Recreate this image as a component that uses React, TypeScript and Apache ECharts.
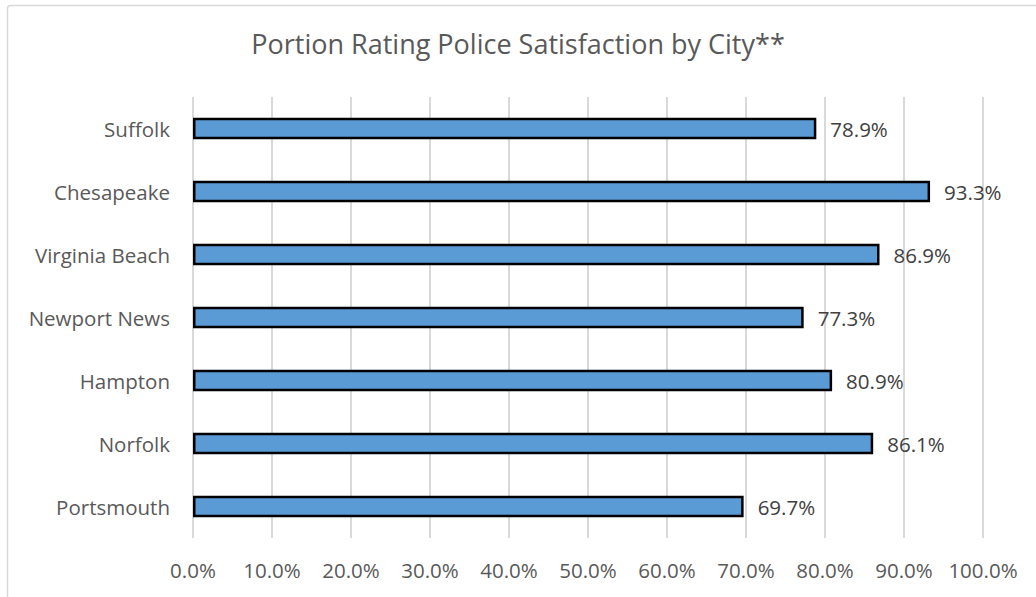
import React, { useEffect, useRef } from "react";
import * as echarts from "echarts";

const titleText = "Portion Rating Police Satisfaction by City**";
const cities = ["Suffolk", "Chesapeake", "Virginia Beach", "Newport News", "Hampton", "Norfolk", "Portsmouth"];
const satisfaction = [78.9, 93.3, 86.9, 77.3, 80.9, 86.1, 69.7];
const xTicks = [0, 10, 20, 30, 40, 50, 60, 70, 80, 90, 100];

const FONT = "'Open Sans', sans-serif";

export default function App() {
  const ref = useRef<HTMLDivElement>(null);
  useEffect(() => {
    if (!ref.current) return;
    const chart = echarts.init(ref.current, undefined, { renderer: "svg" });
    chart.setOption({
      animation: false,
      backgroundColor: "#ffffff",
      textStyle: { fontFamily: FONT },
      title: {
        text: titleText,
        left: "center",
        top: 30,
        padding: 0,
        textStyle: { fontFamily: FONT, fontSize: 27, fontWeight: "normal", color: "#595959" },
      },
      graphic: [
        {
          type: "rect",
          shape: { x: 7.5, y: 5.5, width: 1200, height: 800, r: 3 },
          style: { fill: "none", stroke: "#d9d9d9", lineWidth: 1.5 },
          silent: true,
        },
      ],
      grid: { left: 193, right: 53, top: 97, bottom: 59, containLabel: false },
      xAxis: {
        type: "value",
        min: xTicks[0],
        max: xTicks[xTicks.length - 1],
        interval: 10,
        axisLine: { show: false },
        axisTick: { show: false },
        splitLine: { show: true, lineStyle: { color: "#d9d9d9", width: 2 } },
        axisLabel: {
          margin: 21,
          color: "#595959",
          fontFamily: FONT,
          fontSize: 20.5,
          formatter: (v: number) => v.toFixed(1) + "%",
        },
      },
      yAxis: {
        type: "category",
        data: cities,
        inverse: true,
        axisLine: { show: false },
        axisTick: { show: false },
        axisLabel: { margin: 23, color: "#595959", fontFamily: FONT, fontSize: 20.5 },
      },
      series: [
        {
          type: "bar",
          data: satisfaction,
          barWidth: 21.5,
          itemStyle: { color: "#5b9bd5", borderColor: "#000000", borderWidth: 2.5 },
          label: {
            show: true,
            position: "right",
            distance: 14,
            color: "#404040",
            fontFamily: FONT,
            fontSize: 20.5,
            formatter: (p: any) => p.value.toFixed(1) + "%",
          },
        },
      ],
    });
    return () => chart.dispose();
  }, []);
  return (
    <div
      ref={ref}
      style={{ position: "fixed", left: 0, top: 0, width: 1036, height: 597, background: "#fff" }}
    />
  );
}
